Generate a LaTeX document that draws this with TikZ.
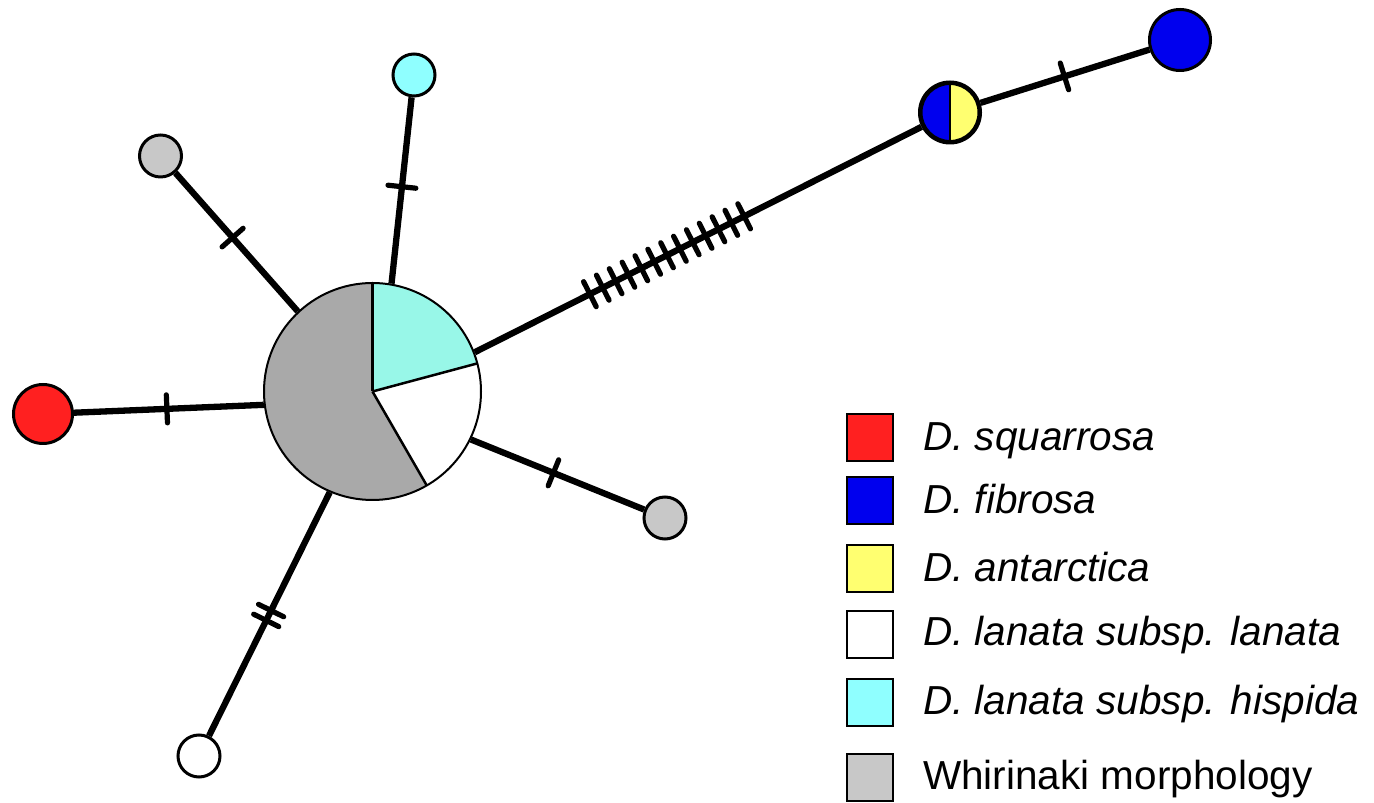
\documentclass[tikz,border=0pt]{standalone}
\usepackage{fontspec}
\setmainfont{Liberation Sans}
\usetikzlibrary{decorations.markings}

\definecolor{sqred}{HTML}{FF2020}
\definecolor{fibblue}{HTML}{0000EE}
\definecolor{antyellow}{HTML}{FFFF70}
\definecolor{hispcyan}{HTML}{8FFFFF}
\definecolor{whigray}{HTML}{C8C8C8}
\definecolor{hubgray}{HTML}{A9A9A9}
\definecolor{hubcyan}{HTML}{98F7E8}

\tikzset{
  hap/.style={circle, draw, line width=3, inner sep=0, minimum size=42},
  bighap/.style={hap, minimum size=61},
  edge/.style={line width=6.3},
  tickmark/.style={line width=5.2, line cap=round},
  ticks/.style={postaction={decorate, decoration={markings,
      mark=#1 with {\draw[tickmark] (0,-14pt) -- (0,14pt);}}}},
  keybox/.style={draw, line width=2, inner sep=0, minimum width=46, minimum height=47},
  keytext/.style={anchor=base west, inner sep=0, font=\fontsize{40.5}{48}\selectfont},
}

\begin{document}
\begin{tikzpicture}[x=1pt, y=1pt]
\useasboundingbox (0,0) rectangle (1374,803);

% central haplotype: pie of three groups
\coordinate (c) at (372.5,411.5);
\fill[hubgray] (c) -- ++(90:108.5) arc[start angle=90, end angle=300, radius=108.5] -- cycle;
\fill[hubcyan] (c) -- ++(90:108.5) arc[start angle=90, end angle=15, radius=108.5] -- cycle;
\fill[white] (c) -- ++(15:108.5) arc[start angle=15, end angle=-60, radius=108.5] -- cycle;
\draw[line width=2.5] (c) -- ++(90:108.5);
\draw[line width=2.5] (c) -- ++(15:108.5);
\draw[line width=2.5] (c) -- ++(300:108.5);
\node[circle, draw, line width=2, inner sep=0, minimum size=217] (hub) at (c) {};

% outer haplotypes
\node[hap, fill=sqred, minimum size=59] (red) at (43,389) {};
\node[hap, fill=whigray] (gtl) at (160.5,647) {};
\node[hap, fill=hispcyan] (cyan) at (414,728) {};
\node[hap, fill=whigray] (gright) at (665,285) {};
\node[hap, fill=white] (wbot) at (199,47) {};
\node[bighap, fill=antyellow, path picture={
    \fill[fibblue] (path picture bounding box.south west) rectangle (path picture bounding box.north);
    \draw[line width=2.5] (path picture bounding box.south) -- (path picture bounding box.north);
  }] (half) at (950,690.5) {};
\node[bighap, fill=fibblue] (blue) at (1180,763) {};
\draw[line width=3] (half) circle[radius=29];

% connectors with mutation ticks
\draw[edge, ticks={at position 97pt}] (hub.187) -- (red);
\draw[edge, ticks={at position 98.5pt}] (hub.133.5) -- (gtl);
\draw[edge, ticks={at position 97.5pt}] (hub.80) -- (cyan);
\draw[edge, ticks={at position 89pt}] (hub.334.2) -- (gright);
\draw[edge, ticks={at position 132pt}, ticks={at position 143pt}] (hub.247) -- (wbot);
\draw[edge, ticks={between positions 129pt and 303pt step 14.4pt}] (hub.21) -- (half);
\draw[edge, ticks={at position 88pt}] (half) -- (blue);

% legend
\node[keybox, fill=sqred] (k1) at (870,365.2) {};
\node[keybox, fill=fibblue] (k2) at (870,302.5) {};
\node[keybox, fill=antyellow] (k3) at (870,234) {};
\node[keybox, fill=white] (k4) at (870,168.2) {};
\node[keybox, fill=hispcyan] (k5) at (870,100) {};
\node[keybox, fill=whigray] (k6) at (870,25) {};
\node[keytext] (t1) at (923,352.3) {\itshape D. squarrosa};
\node[keytext] (t2) at (923,289.7) {\itshape D. fibrosa};
\node[keytext] (t3) at (923,221.3) {\itshape D. antarctica};
\node[keytext] (t4) at (923,157.3) {\itshape D. lanata subsp. lanata};
\node[keytext] (t5) at (923,88) {\itshape D. lanata subsp. hispida};
\node[keytext] (t6) at (923,13) {Whirinaki morphology};
\end{tikzpicture}
\end{document}
